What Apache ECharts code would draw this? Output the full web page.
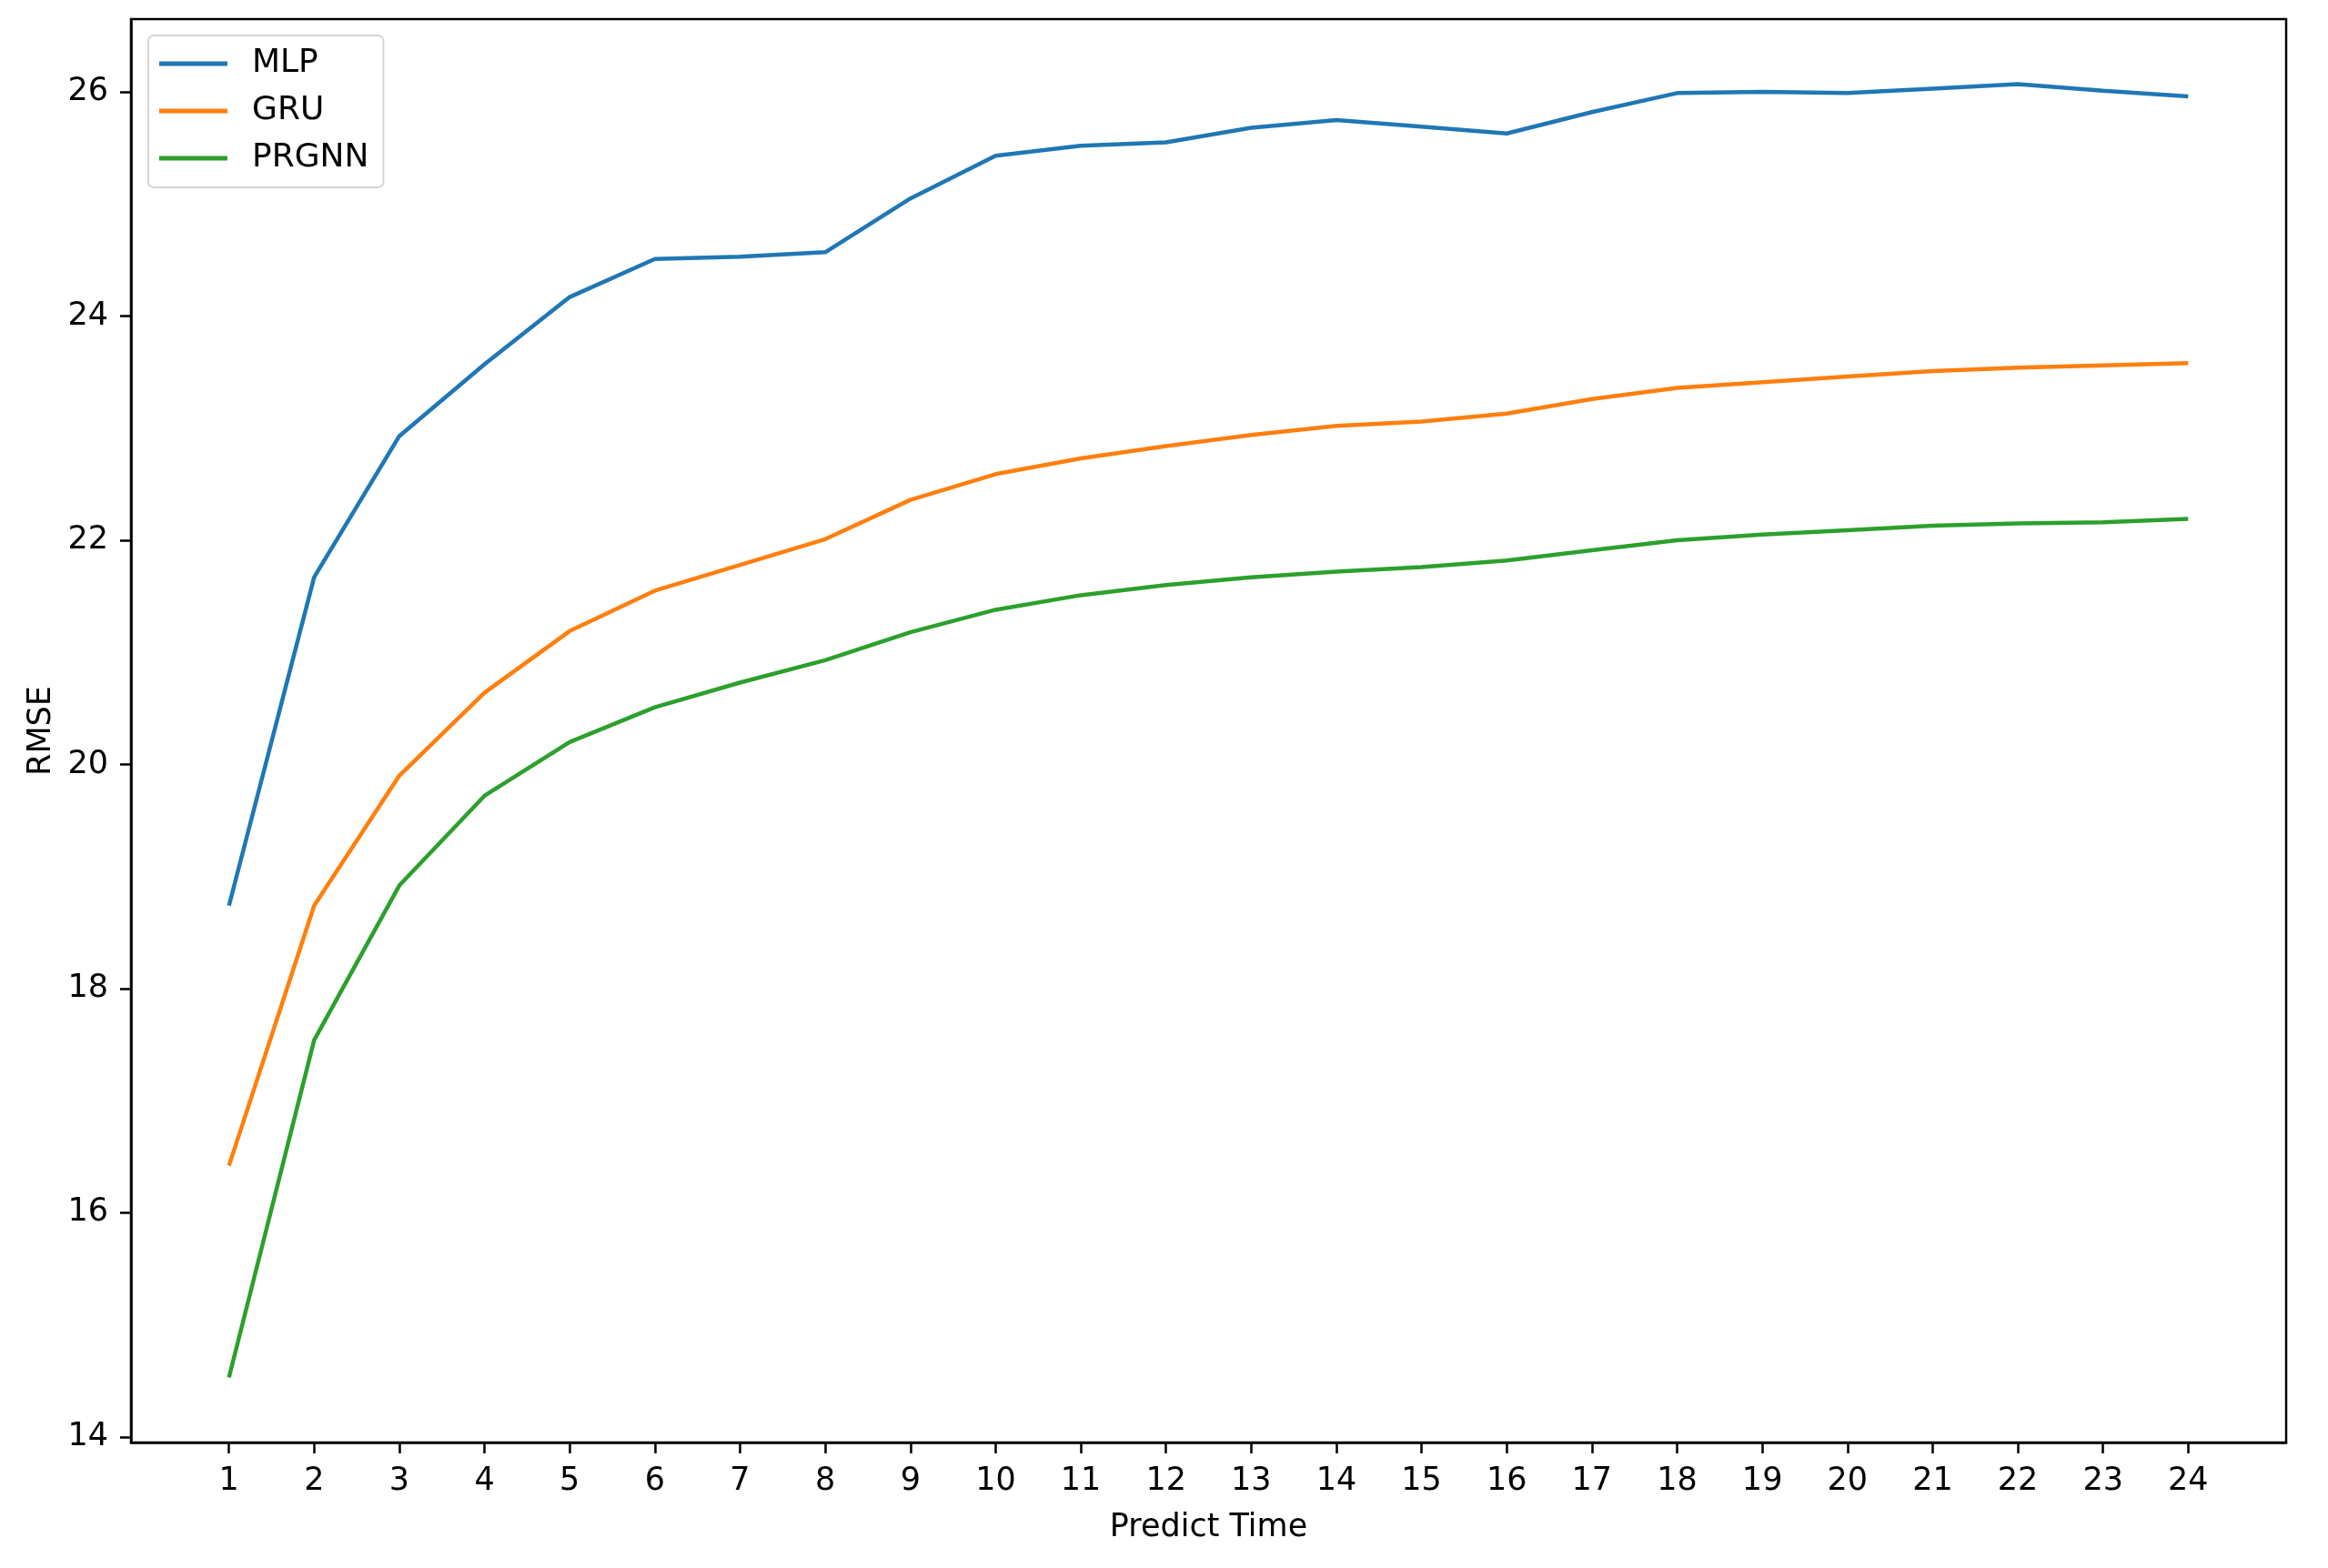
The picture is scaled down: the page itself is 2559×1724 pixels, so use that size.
<!DOCTYPE html>
<html>
<head>
<meta charset="utf-8">
<script src="https://cdn.jsdelivr.net/npm/echarts@6/dist/echarts.min.js"></script>
<style>
  html, body { margin: 0; padding: 0; background: #fff; }
  #chart { width: 2559px; height: 1724px; }
</style>
</head>
<body>
<div id="chart"></div>
<script>
var steps = [1,2,3,4,5,6,7,8,9,10,11,12,13,14,15,16,17,18,19,20,21,22,23,24];
var yTicks = [14,16,18,20,22,24,26];
var mlp = [18.74,21.67,22.93,23.57,24.17,24.51,24.53,24.57,25.05,25.43,25.52,25.55,25.68,25.75,25.69,25.63,25.82,25.99,26.0,25.99,26.03,26.07,26.01,25.96];
var gru = [16.42,18.74,19.90,20.64,21.19,21.55,21.78,22.01,22.36,22.59,22.73,22.84,22.94,23.02,23.06,23.13,23.26,23.36,23.41,23.46,23.51,23.54,23.56,23.58];
var prgnn = [14.53,17.54,18.92,19.72,20.20,20.51,20.73,20.93,21.18,21.38,21.51,21.60,21.67,21.72,21.76,21.82,21.91,22.0,22.05,22.09,22.13,22.15,22.16,22.19];
var names = ['MLP','GRU','PRGNN'];
var colors = ['#1f77b4','#ff7f0e','#2ca02c'];

function pairs(vals) {
    return steps.map(function (s, i) { return [s, vals[i]]; });
}

var font = 'DejaVu Sans';
var chart = echarts.init(document.getElementById('chart'));
var allData = [mlp, gru, prgnn];

chart.setOption({
    animation: false,
    backgroundColor: '#fff',
    color: colors,
    grid: {
        left: 144, right: 46, top: 21, bottom: 138,
        show: true, borderColor: '#000', borderWidth: 2.5, backgroundColor: '#fff'
    },
    legend: {
        orient: 'vertical',
        left: 163, top: 39,
        padding: [11, 16, 12, 12],
        itemGap: 12,
        itemWidth: 75, itemHeight: 5,
        icon: 'rect',
        backgroundColor: '#fff',
        borderColor: '#d6d6d6', borderWidth: 2, borderRadius: 6,
        textStyle: { fontFamily: font, fontSize: 36, color: '#000', lineHeight: 40, padding: [0, 0, 0, 22] },
        data: names
    },
    xAxis: {
        type: 'value',
        min: -0.15, max: 25.15,
        name: 'Predict Time', nameLocation: 'middle', nameGap: 76,
        nameTextStyle: { fontFamily: font, fontSize: 35, color: '#000' },
        axisLine: { show: true, onZero: false, lineStyle: { color: '#000', width: 2.5 } },
        axisTick: { show: true, length: 12, customValues: steps, lineStyle: { color: '#000', width: 2.5 } },
        axisLabel: { customValues: steps, margin: 25, fontFamily: font, fontSize: 35, color: '#000' },
        splitLine: { show: false }
    },
    yAxis: {
        type: 'value',
        min: 13.95, max: 26.65,
        name: 'RMSE', nameLocation: 'middle', nameGap: 80, nameRotate: 90,
        nameTextStyle: { fontFamily: font, fontSize: 35, color: '#000' },
        axisLine: { show: true, onZero: false, lineStyle: { color: '#000', width: 2.5 } },
        axisTick: { show: true, length: 12, customValues: yTicks, lineStyle: { color: '#000', width: 2.5 } },
        axisLabel: { customValues: yTicks, margin: 25, fontFamily: font, fontSize: 35, color: '#000' },
        splitLine: { show: false }
    },
    series: names.map(function (n, i) {
        return {
            name: n,
            type: 'line',
            data: pairs(allData[i]),
            showSymbol: false,
            symbol: 'none',
            lineStyle: { width: 4.5, color: colors[i] },
            itemStyle: { color: colors[i] }
        };
    })
});
</script>
</body>
</html>
